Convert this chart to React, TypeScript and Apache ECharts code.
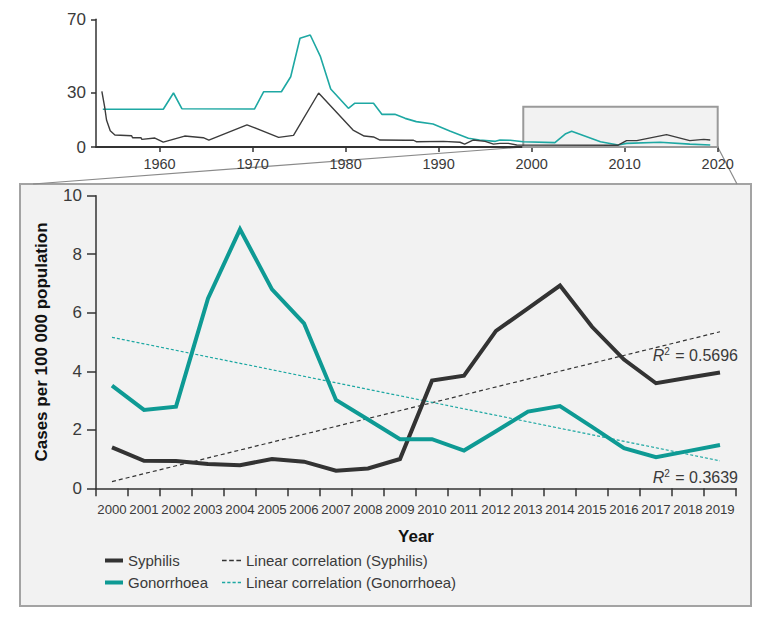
import React, { useEffect, useRef } from 'react';
import * as echarts from 'echarts';

// ---- Main (zoomed) chart data, 2000–2019 ----
const years = ['2000', '2001', '2002', '2003', '2004', '2005', '2006', '2007', '2008', '2009',
  '2010', '2011', '2012', '2013', '2014', '2015', '2016', '2017', '2018', '2019'];
const syphilis = [1.40, 0.94, 0.93, 0.83, 0.79, 1.00, 0.91, 0.60, 0.68, 1.00,
  3.68, 3.85, 5.38, 6.15, 6.93, 5.52, 4.40, 3.59, 3.78, 3.96];
const gonorrhoea = [3.51, 2.68, 2.79, 6.49, 8.85, 6.80, 5.64, 3.02, 2.35, 1.68,
  1.68, 1.29, 1.95, 2.62, 2.81, 2.10, 1.37, 1.06, 1.27, 1.48];
// linear correlation lines: values at first and last year
const syphilisTrend = [0.23, 5.35];
const gonorrhoeaTrend = [5.16, 0.94];
const r2Syphilis = '0.5696';
const r2Gonorrhoea = '0.3639';

// ---- Inset chart (long-term) data: [year, value] ----
const insetSyphilisYears = [1953.8, 1954.1, 1954.3, 1954.7, 1955.2, 1957.0, 1957.1, 1958.0, 1958.1, 1959.5,
  1960.4, 1962.7, 1964.7, 1965.3, 1969.4, 1970.1, 1972.8, 1974.4, 1977.1, 1980.8,
  1982.0, 1983.0, 1983.7, 1986.4, 1987.3, 1987.6, 1990.5, 1992.3, 1992.8, 1993.7,
  1995.0, 1995.9, 1996.6, 1997.5, 1998.4, 2009.3, 2010.2, 2011.3, 2014.5, 2017.0,
  2018.5, 2019.2];
const insetSyphilisValues = [30.5, 22, 14.8, 8.9, 6.6, 6.2, 5.1, 5.1, 4.2, 4.9,
  2.7, 6.0, 5.1, 3.8, 12.1, 10.8, 5.3, 6.4, 29.6, 9.3,
  6.0, 5.5, 3.8, 3.7, 3.7, 2.9, 3.1, 2.6, 1.6, 3.8,
  3.1, 1.6, 2.0, 2.0, 1.1, 1.0, 3.5, 3.5, 6.8, 3.5,
  4.2, 3.8];
const insetGonorrhoeaYears = [1953.9, 1960.4, 1961.5, 1962.4, 1970.2, 1971.2, 1973.1, 1974.1, 1975.1, 1976.2,
  1977.3, 1978.4, 1980.3, 1981.0, 1983.0, 1983.9, 1985.3, 1986.4, 1987.6, 1989.4,
  1991.2, 1993.2, 1994.4, 1996.1, 1996.6, 1997.7, 1999.1, 2002.5, 2003.6, 2004.3,
  2007.4, 2009.3, 2010.2, 2013.8, 2017.0, 2019.2];
const insetGonorrhoeaValues = [20.7, 20.7, 29.6, 21.0, 20.8, 30.3, 30.3, 38.5, 59.6, 61.4,
  49.5, 31.8, 21.2, 24.0, 24.0, 17.9, 17.9, 15.7, 13.9, 12.6,
  8.8, 4.8, 3.8, 3.1, 3.8, 3.7, 2.9, 2.4, 7.1, 8.6,
  2.9, 1.1, 2.0, 2.6, 1.6, 1.1];
const insetXTicks = [1960, 1970, 1980, 1990, 2000, 2010, 2020];
const insetYTicks = [0, 30, 70];
const zoomRange = [1999.1, 2020];
const zoomTop = 22;

const FONT = "'Liberation Sans', Arial, sans-serif";
const DARK = '#333333';
const TEAL = '#0e9a94';
const TEAL_LIGHT = '#1ea8a3';
const TEXT = '#3a3a3a';

const SOLID_ICON = 'path://M0,0h18v4h-18z';
const DASH3_ICON = 'path://M0,0h4.5v1.4h-4.5z M7,0h4.5v1.4h-4.5z M14,0h4.5v1.4h-4.5z';
const DASH4_ICON = 'path://M0,0h3.2v1.4h-3.2z M5.2,0h3.2v1.4h-3.2z M10.4,0h3.2v1.4h-3.2z M15.6,0h3.2v1.4h-3.2z';

export default function App() {
  const ref = useRef<HTMLDivElement>(null);

  useEffect(() => {
    if (!ref.current) return;
    const chart = echarts.init(ref.current, null, { renderer: 'svg', width: 771, height: 618 });

    const pair = (xs: number[], vs: number[]) => xs.map((x, i) => [x, vs[i]]);

    const option: any = {
      animation: false,
      backgroundColor: '#ffffff',
      textStyle: { fontFamily: FONT, color: TEXT },
      grid: [
        { left: 96, right: 53.3, top: 19.3, bottom: 471, containLabel: false },
        { left: 96, right: 35, top: 195.7, bottom: 129.7, containLabel: false },
      ],
      xAxis: [
        {
          type: 'value', gridIndex: 0, min: 1953.17, max: 2020,
          axisLine: { show: true, lineStyle: { color: DARK, width: 2 } },
          axisTick: { show: true, length: 5, customValues: insetXTicks, lineStyle: { color: DARK, width: 1.5 } },
          axisLabel: {
            customValues: insetXTicks, fontFamily: FONT, fontSize: 14.5, color: TEXT, margin: 9,
            formatter: (v: number) => String(v),
          },
          splitLine: { show: false },
        },
        {
          type: 'category', gridIndex: 1, data: years, boundaryGap: true,
          axisLine: { show: true, lineStyle: { color: DARK, width: 1.5 } },
          axisTick: { show: true, length: 8, interval: 0, lineStyle: { color: DARK, width: 1.5 } },
          axisLabel: { interval: 0, fontFamily: FONT, fontSize: 13.2, color: TEXT, margin: 15 },
          name: 'Year', nameLocation: 'middle', nameGap: 40,
          nameTextStyle: { fontFamily: FONT, fontSize: 17, fontWeight: 'bold', color: '#111' },
        },
      ],
      yAxis: [
        {
          type: 'value', gridIndex: 0, min: 0, max: 70,
          axisLine: { show: true, lineStyle: { color: DARK, width: 1.5 } },
          axisTick: { show: true, length: 5, customValues: insetYTicks, lineStyle: { color: DARK, width: 1.5 } },
          axisLabel: { customValues: insetYTicks, fontFamily: FONT, fontSize: 17, color: TEXT, margin: 10 },
          splitLine: { show: false },
        },
        {
          type: 'value', gridIndex: 1, min: 0, max: 10, interval: 2,
          axisLine: { show: true, lineStyle: { color: DARK, width: 1.5 } },
          axisTick: { show: true, length: 9, lineStyle: { color: DARK, width: 1.5 } },
          axisLabel: { fontFamily: FONT, fontSize: 17, color: TEXT, margin: 14 },
          splitLine: { show: false },
          name: 'Cases per 100 000 population', nameLocation: 'middle', nameGap: 46,
          nameTextStyle: { fontFamily: FONT, fontSize: 17, fontWeight: 'bold', color: '#111' },
        },
      ],
      legend: [
        {
          left: 100, top: 548, orient: 'vertical', itemWidth: 18, itemHeight: 14, itemGap: 7,
          data: [
            { name: 'Syphilis', icon: SOLID_ICON, itemStyle: { color: DARK } },
            { name: 'Gonorrhoea', icon: SOLID_ICON, itemStyle: { color: TEAL } },
          ],
          textStyle: { fontFamily: FONT, fontSize: 15, color: TEXT },
        },
        {
          left: 217, top: 548, orient: 'vertical', itemWidth: 19, itemHeight: 14, itemGap: 7,
          data: [
            { name: 'Linear correlation (Syphilis)', icon: DASH3_ICON, itemStyle: { color: DARK } },
            { name: 'Linear correlation (Gonorrhoea)', icon: DASH4_ICON, itemStyle: { color: TEAL_LIGHT } },
          ],
          textStyle: { fontFamily: FONT, fontSize: 15, color: TEXT },
        },
      ],
      series: [
        {
          name: 'insetArea', type: 'line', xAxisIndex: 0, yAxisIndex: 0, data: [], silent: true,
          markArea: {
            silent: true,
            itemStyle: { color: '#f2f2f2', borderColor: '#9a9a9a', borderWidth: 2 },
            data: [[{ xAxis: zoomRange[0], yAxis: 0 }, { xAxis: zoomRange[1], yAxis: zoomTop }]],
          },
          z: 1,
        },
        {
          name: 'insetGonorrhoea', type: 'line', xAxisIndex: 0, yAxisIndex: 0,
          data: pair(insetGonorrhoeaYears, insetGonorrhoeaValues), symbol: 'none',
          lineStyle: { color: TEAL_LIGHT, width: 1.6 }, z: 3,
        },
        {
          name: 'insetSyphilis', type: 'line', xAxisIndex: 0, yAxisIndex: 0,
          data: pair(insetSyphilisYears, insetSyphilisValues), symbol: 'none',
          lineStyle: { color: '#3c3c3c', width: 1.4 }, z: 3,
        },
        {
          name: 'Linear correlation (Syphilis)', type: 'line', xAxisIndex: 1, yAxisIndex: 1,
          data: [[years[0], syphilisTrend[0]], [years[years.length - 1], syphilisTrend[1]]],
          symbol: 'none', color: DARK, itemStyle: { color: DARK },
          lineStyle: { color: DARK, width: 1.2, type: [4, 3] }, z: 2,
        },
        {
          name: 'Linear correlation (Gonorrhoea)', type: 'line', xAxisIndex: 1, yAxisIndex: 1,
          data: [[years[0], gonorrhoeaTrend[0]], [years[years.length - 1], gonorrhoeaTrend[1]]],
          symbol: 'none', color: TEAL_LIGHT, itemStyle: { color: TEAL_LIGHT },
          lineStyle: { color: TEAL_LIGHT, width: 1.2, type: [3, 2] }, z: 2,
        },
        {
          name: 'Syphilis', type: 'line', xAxisIndex: 1, yAxisIndex: 1,
          data: syphilis, symbol: 'none', color: DARK, itemStyle: { color: DARK },
          lineStyle: { color: DARK, width: 4, join: 'miter' }, z: 4,
        },
        {
          name: 'Gonorrhoea', type: 'line', xAxisIndex: 1, yAxisIndex: 1,
          data: gonorrhoea, symbol: 'none', color: TEAL, itemStyle: { color: TEAL },
          lineStyle: { color: TEAL, width: 4, join: 'miter' }, z: 4,
        },
      ],
    };
    chart.setOption(option);

    const bl = chart.convertToPixel({ gridIndex: 0 }, [zoomRange[0], 0]) as number[];
    const br = chart.convertToPixel({ gridIndex: 0 }, [zoomRange[1], 0]) as number[];

    const r2Rich = {
      r: { fontFamily: FONT, fontSize: 16, fontStyle: 'italic', fill: TEXT, color: TEXT },
      s: { fontFamily: FONT, fontSize: 10, fill: TEXT, color: TEXT, verticalAlign: 'top', padding: [0, 1, 7, 0] },
      t: { fontFamily: FONT, fontSize: 16, fill: TEXT, color: TEXT },
    };

    chart.setOption({
      graphic: {
        elements: [
          {
            id: 'panel', type: 'rect', z: -10, silent: true,
            shape: { x: 20, y: 184, width: 731, height: 422 },
            style: { fill: '#f2f2f2', stroke: '#a3a3a3', lineWidth: 2 },
          },
          {
            id: 'connL', type: 'line', z: -5, silent: true,
            shape: { x1: bl[0], y1: bl[1], x2: 33, y2: 184 },
            style: { stroke: '#8a8a8a', lineWidth: 1.2 },
          },
          {
            id: 'connR', type: 'line', z: -5, silent: true,
            shape: { x1: br[0], y1: br[1], x2: 737, y2: 184 },
            style: { stroke: '#8a8a8a', lineWidth: 1.2 },
          },
          {
            id: 'r2s', type: 'text', z: 50, silent: true, x: 738, y: 355,
            style: {
              text: `{r|R}{s|2}{t| = ${r2Syphilis}}`, rich: r2Rich,
              align: 'right', verticalAlign: 'middle', fill: TEXT,
            },
          },
          {
            id: 'r2g', type: 'text', z: 50, silent: true, x: 738, y: 477,
            style: {
              text: `{r|R}{s|2}{t| = ${r2Gonorrhoea}}`, rich: r2Rich,
              align: 'right', verticalAlign: 'middle', fill: TEXT,
            },
          },
        ],
      },
    });

    return () => chart.dispose();
  }, []);

  return (
    <div
      ref={ref}
      style={{ position: 'fixed', left: 0, top: 0, width: 771, height: 618, background: '#fff' }}
    />
  );
}
